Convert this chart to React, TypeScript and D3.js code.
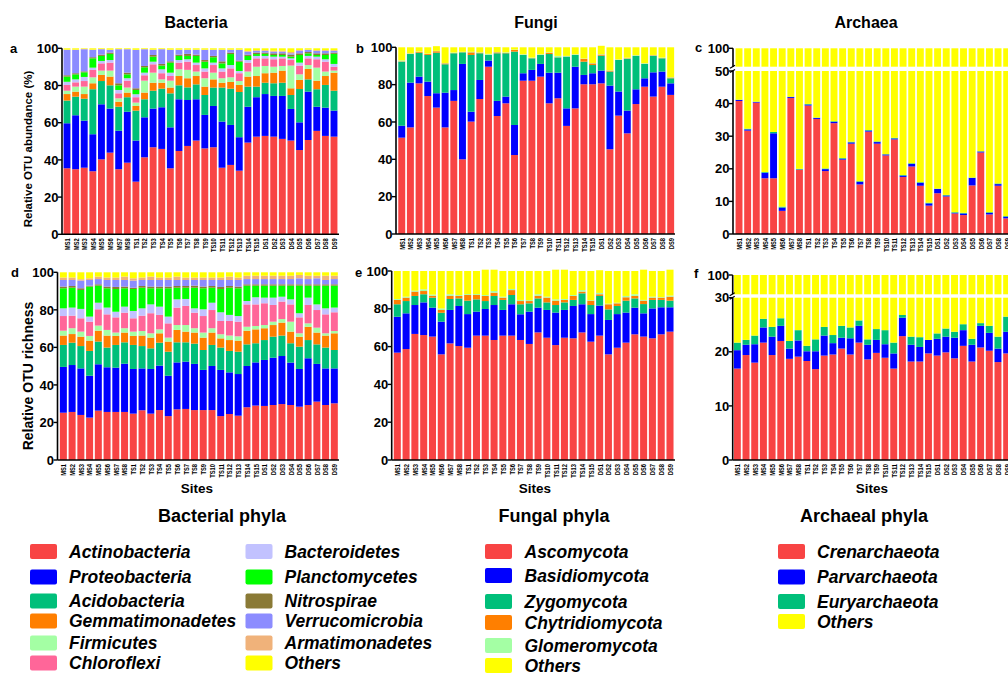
import React from 'react';
import * as d3 from 'd3';

const FONT = '"Liberation Sans", Arial, Helvetica, sans-serif';

const sites = [
  'MS1', 'MS2', 'MS3', 'MS4', 'MS5', 'MS6', 'MS7', 'MS8',
  'TS1', 'TS2', 'TS3', 'TS4', 'TS5', 'TS6', 'TS7', 'TS8', 'TS9', 'TS10', 'TS11', 'TS12', 'TS13', 'TS14', 'TS15',
  'DS1', 'DS2', 'DS3', 'DS4', 'DS5', 'DS6', 'DS7', 'DS8', 'DS9',
];

// a: bacterial OTU abundance (%)
const abActino = [35.5, 35, 35.8, 33.9, 40.3, 43.9, 35, 38.5, 28.3, 41.4, 46.8, 45.9, 35.5, 44.8, 47.5, 50.4, 46.2, 46.8, 35.8, 37.3, 34.2, 49.3, 52.5, 52.9, 52.5, 51.3, 50.4, 45.3, 50.7, 55.6, 52.9, 52.5];
const abProteo = [24.2, 29, 25.3, 19.9, 29.6, 23.7, 20.7, 27.4, 22.1, 21.5, 20.8, 22.4, 22, 27.8, 24.7, 22.2, 18, 22.2, 24.8, 21.5, 18, 19.3, 21.2, 22.5, 21.9, 23.1, 17, 14.9, 26, 13, 15.2, 14];
const abAcido = [12.2, 10, 11.8, 24.2, 12.5, 12.5, 12.9, 7.8, 16.1, 9.7, 9.6, 10, 18.3, 7.5, 6.8, 8, 10.7, 9.9, 18.3, 19.5, 24.3, 10.8, 5.7, 6.1, 6.8, 7.1, 7.5, 17.9, 6.6, 9.4, 12.2, 10.7];
const abGemma = [3.5, 2.7, 2.5, 3.2, 3.3, 4.7, 2.7, 2.5, 2.5, 3.6, 4.3, 3.2, 3.1, 5, 4.9, 4.5, 4.5, 4.4, 2.6, 3.6, 3.8, 5.4, 5.7, 5.1, 5.7, 6.5, 3.6, 4.9, 5.6, 4.6, 4.8, 9.7];
const abFirmi = [1.8, 2.7, 4, 3.2, 2.3, 3.2, 1.8, 2.7, 1.8, 6.4, 5.4, 1.8, 3.7, 3.6, 4.5, 2.4, 4.5, 3.6, 2.4, 2.5, 2.1, 2.7, 5, 3.9, 3.2, 2.5, 12.2, 3, 2.1, 7, 2.4, 1.1];
const abChloro = [3.1, 2.3, 3, 4, 3.9, 4.3, 2.7, 3.7, 2.9, 2.9, 4.5, 3.3, 2.5, 3.6, 4.4, 3.5, 3.6, 4.1, 3.6, 4.8, 4.2, 4.8, 4.5, 4.1, 4, 4.1, 3, 4.7, 3.6, 4.5, 5.3, 2.1];
const abBactero = [1.7, 1.6, 2.2, 1.2, 1.3, 1.4, 1.8, 1.3, 1.6, 1.4, 1.4, 2.1, 1.8, 1.4, 1.3, 1.3, 1.7, 1.3, 1.7, 1.8, 1.2, 1.4, 1.3, 1.3, 1.4, 0.9, 0.9, 1.6, 1.3, 1.4, 1.3, 1.5];
const abPlancto = [2.8, 2.7, 2.5, 5, 2.7, 3.3, 2.5, 2.1, 2.3, 2.9, 2.7, 2, 5.4, 2.2, 1.8, 3.6, 3.6, 2.9, 2.7, 5.9, 5, 2.2, 1, 1.1, 0.9, 0.9, 0.9, 4.1, 1.4, 0.9, 2.3, 5.4];
const abNitro = [0.7, 0.6, 0.5, 0.6, 0.7, 0.7, 1.1, 0.9, 0.9, 0.7, 0.9, 0.9, 0.7, 0.7, 1.1, 0.7, 0.9, 0.7, 1.1, 0.8, 0.6, 0.7, 0.8, 0.7, 0.9, 0.9, 1.1, 0.9, 0.7, 0.9, 0.9, 0.7];
const abVerruco = [13.6, 12.5, 11.9, 3.9, 2.9, 1.4, 18.3, 12.6, 20.6, 9, 2.7, 7.9, 6.1, 2.5, 2.1, 2.5, 5.4, 3.2, 6.1, 1.4, 5.7, 1.6, 0.9, 0.9, 0.9, 0.9, 0.7, 1.4, 1.1, 1.3, 1.3, 0.9];
const abArmat = [0.2, 0.2, 0.2, 0.2, 0.1, 0.2, 0.1, 0.1, 0.1, 0.1, 0.2, 0.1, 0.2, 0.2, 0.2, 0.2, 0.2, 0.2, 0.2, 0.2, 0.2, 0.4, 0.4, 0.4, 0.5, 0.5, 0.7, 0.4, 0.2, 0.4, 0.4, 0.4];
const abOthers = [0.7, 0.7, 0.3, 0.7, 0.4, 0.7, 0.4, 0.4, 0.8, 0.4, 0.7, 0.4, 0.7, 0.7, 0.7, 0.7, 0.7, 0.7, 0.7, 0.7, 0.7, 1.4, 1.0, 1.0, 1.3, 1.3, 2.0, 0.9, 0.7, 1.0, 1.0, 1.0];

// d: bacterial OTU richness (%)
const brActino = [25.2, 25.6, 24, 22.6, 26.3, 25.6, 25.6, 25.6, 24.7, 26.5, 24.7, 26.6, 23.4, 27, 27.2, 26.6, 26.6, 26.6, 23.4, 24.5, 23.6, 28.1, 29, 28.8, 29.3, 29.8, 29.3, 28.4, 29.3, 31.1, 29.3, 30.2];
const brProteo = [24.4, 25, 24.8, 22.3, 24.7, 23.8, 23.6, 25.7, 23.8, 22.3, 23.8, 23.7, 21.5, 25, 25.2, 24.6, 21.4, 23.5, 24.6, 22.2, 22.2, 22, 23, 24.5, 25.2, 25.6, 22.6, 20.1, 24.9, 20.1, 19.5, 18.6];
const brAcido = [11.7, 11.9, 11.9, 13.2, 12.1, 10.5, 12.1, 11.4, 12.8, 11.9, 11, 12.2, 12.8, 10.7, 10.3, 10.8, 10.6, 11.2, 11.9, 11.4, 11.9, 11.5, 10.2, 10.6, 11.2, 10.9, 10.3, 11.9, 9.7, 10.4, 11.1, 9.8];
const brGemma = [5, 4.6, 5, 5.5, 5.8, 6.4, 4.8, 5.2, 4.8, 5.6, 5.7, 5, 5.4, 6.6, 5.7, 5.9, 6.6, 6.6, 4.9, 5.8, 5.9, 7.3, 7.4, 6.3, 6.2, 6.9, 6.2, 5.3, 7.1, 6.3, 6.4, 8.9];
const brFirmi = [2.6, 3.1, 2.7, 2.5, 2.7, 3, 1.8, 2.3, 2.3, 2.4, 2.3, 2.1, 2.1, 2.6, 3.5, 2.3, 2.7, 2.3, 2.2, 2.4, 2.3, 2.1, 1.8, 1.7, 1.8, 1.9, 5.3, 1.8, 1.8, 2.6, 1.2, 1.2];
const brChloro = [7.8, 6.7, 7.1, 7.6, 8.7, 8.3, 8.1, 8.3, 7.1, 8.2, 10.7, 7.7, 7.6, 9.3, 10.2, 8.3, 8.8, 9.7, 7.1, 7.8, 7.8, 11.9, 11.5, 11.6, 8.9, 9.3, 9.2, 8.5, 9.8, 9.4, 10.1, 10];
const brBactero = [4.1, 4.3, 5, 2.7, 3.5, 3.6, 3, 3.2, 3.9, 3.9, 4.7, 4.4, 3.6, 4.4, 3.7, 2.3, 3.6, 3.9, 4.6, 3.2, 3, 1.8, 3.8, 3, 3.9, 2.6, 2.7, 2.2, 3.9, 3, 3.2, 2.5];
const brPlancto = [10.7, 10.6, 10.1, 16, 9.1, 10.3, 12.1, 9.8, 11.7, 11, 8.6, 9.8, 15.1, 6.2, 6, 11, 11.2, 8, 12.4, 14.5, 14.8, 8.2, 6.2, 6.4, 6.4, 5.9, 7.3, 14.7, 6.4, 10, 12.1, 11.7];
const brNitro = [0.9, 0.9, 0.9, 0.5, 0.7, 0.9, 1.1, 0.9, 0.7, 0.9, 0.9, 0.9, 0.9, 0.9, 0.9, 1.1, 0.9, 0.9, 1.1, 0.9, 0.9, 0.7, 0.7, 0.7, 0.7, 0.7, 0.7, 0.7, 0.7, 0.7, 0.7, 0.7];
const brVerruco = [3.5, 3.2, 4.1, 3, 2.8, 3.5, 3.7, 3.5, 3.8, 3.2, 3.5, 3.5, 3.5, 3.2, 3.2, 3, 3.5, 3.2, 3.7, 3.2, 3.5, 2.8, 2.8, 2.8, 2.8, 2.8, 2.8, 3.2, 2.8, 3.2, 2.3, 2.8];
const brArmat = [1.3, 1.3, 0.7, 0.9, 1.3, 1.3, 1.3, 1.8, 1.2, 1.3, 1.8, 1.3, 1.3, 1.8, 1.3, 1.3, 1.3, 1.3, 1.3, 1.8, 1.3, 1.8, 1.8, 1.8, 1.8, 1.8, 1.8, 1.8, 1.8, 1.4, 2.3, 1.8];
const brOthers = [2.8, 2.8, 3.7, 3.2, 2.3, 2.8, 2.8, 2.3, 3.2, 2.8, 2.3, 2.8, 2.8, 2.3, 2.8, 2.8, 2.8, 2.8, 2.8, 2.3, 2.8, 1.8, 1.8, 1.8, 1.8, 1.8, 1.8, 1.4, 1.8, 1.8, 1.8, 1.8];

// b: fungal OTU abundance (%)
const faAsco = [51.6, 57.1, 80.7, 73.9, 67.7, 57.1, 71.3, 40, 60.2, 72.3, 89.6, 63.2, 70, 42.3, 82.1, 82.1, 84.3, 70, 72.7, 57.9, 67.3, 80.2, 80.2, 80.7, 45.4, 63.4, 53.9, 69.6, 78.9, 73.6, 78.9, 74.5];
const faBasidio = [6.4, 24, 3.6, 7.7, 7.7, 18.6, 5.8, 51.1, 5.3, 10.2, 3.3, 8.1, 3.6, 16.1, 4, 5.8, 6.8, 16.4, 13.7, 9.4, 22.3, 5, 5.9, 6.8, 34.1, 12.9, 12.2, 7.9, 4.5, 13, 8.1, 6.2];
const faZygo = [34.3, 15.3, 12.8, 14.3, 21.7, 15.2, 19.7, 6.2, 30.4, 14.3, 3, 25.5, 23.2, 39.3, 9.8, 6.2, 4.8, 10, 8.2, 27.7, 6.3, 7.1, 4.4, 8, 7.5, 16.9, 27.7, 17.9, 7.7, 8.8, 7.1, 2.7];
const faChytri = [0.2, 0.2, 0.4, 0.5, 0.8, 0.5, 0.1, 0.1, 1.4, 0.3, 0.1, 0.5, 0.2, 0.9, 0.1, 0.1, 0.1, 0.7, 0.1, 0.1, 0.1, 1.5, 0.9, 0.6, 0.5, 0.1, 0.3, 0.1, 0.1, 0.3, 0.1, 0.4];
const faGlomero = [0.5, 0.2, 0.2, 0.2, 0.2, 0.2, 0.3, 0.2, 0.3, 0.2, 0.5, 0.2, 0.3, 0.2, 0.3, 0.3, 0.3, 0.2, 0.7, 0.3, 0.3, 0.2, 0.2, 0.2, 0.2, 0.2, 0.3, 0.3, 0.3, 0.2, 0.3, 0.2];
const faOthers = [7.0, 3.2, 2.3, 3.4, 2.5, 8.4, 2.8, 2.4, 2.4, 2.7, 3.5, 2.6, 2.7, 1.2, 3.7, 5.5, 3.7, 2.7, 4.6, 4.6, 3.7, 6, 8.4, 4.5, 12.3, 6.5, 5.6, 4.2, 8.5, 4.1, 5.5, 16];

// e: fungal OTU richness (%)
const frAsco = [56.8, 58.7, 66.7, 66.1, 65.3, 55.9, 61.7, 60.3, 59.4, 65.8, 65.8, 63.5, 65.8, 65.8, 63.5, 61.4, 67.5, 64.7, 60.8, 64.7, 64.4, 67.5, 62.6, 65.8, 55.9, 59.4, 62.1, 66.5, 65.3, 64.4, 66.5, 67.9];
const frBasidio = [19, 18.9, 15.3, 17.3, 15.3, 17.3, 17.7, 21.2, 17.8, 12.7, 14.1, 18.5, 13.6, 16.6, 13.6, 17.1, 13.1, 14.7, 17.2, 14.7, 17.1, 14.9, 14.6, 15.9, 18.2, 17.8, 15.9, 14.1, 12.3, 15.8, 14.3, 12.9];
const frZygo = [6.6, 6.5, 4.8, 4.3, 5.3, 4.7, 5.8, 4, 7.1, 6.5, 4.2, 4.8, 5.3, 4.9, 5.3, 4.4, 4.9, 4, 4, 4, 3.2, 5.8, 4.8, 5.1, 5.6, 4.3, 6.3, 4.9, 4.9, 4.5, 3.9, 3.5];
const frChytri = [2.3, 1.8, 2.3, 1.7, 1, 1.5, 1.7, 1.3, 3, 2.3, 2.7, 1.7, 1.2, 2.6, 1.7, 1.2, 1.4, 2.5, 2.3, 1.3, 2.1, 0.9, 2.3, 0.9, 2.7, 1.4, 1.8, 1.3, 1.8, 1.2, 1.2, 2.1];
const frGlomero = [0.5, 0.5, 0.5, 0.9, 0.6, 0.8, 0.8, 0.5, 0.5, 0.5, 0.5, 0.9, 0.5, 0.6, 0.6, 0.5, 0.8, 0.5, 0.7, 0.5, 0.5, 0.8, 0.3, 0.7, 0.3, 0.3, 0.7, 0.9, 0.4, 0.5, 0.3, 0.6];
const frOthers = [14.8, 13.6, 10.4, 9.7, 12.5, 19.8, 12.3, 12.7, 12.2, 12.2, 13.4, 11.3, 13.6, 9.5, 15.3, 15.4, 12.3, 13.6, 15.7, 15.5, 12.7, 10.1, 15.4, 12, 17.3, 16.8, 13.2, 12.3, 16, 13.6, 13.8, 13.7];

// c: archaeal OTU abundance (%)
const aaCren = [40.8, 31.7, 40.3, 17.1, 17.1, 7.1, 41.7, 19.7, 39.4, 35.3, 19.3, 34, 22.8, 27.7, 15.2, 31.4, 27.7, 24.1, 29, 17.5, 20.7, 14.8, 8.7, 12.5, 11.5, 6.3, 5.8, 14.9, 25, 6, 14.8, 4.8];
const aaParv = [0.3, 0.4, 0.2, 1.7, 13.8, 1.0, 0.3, 0.1, 0.3, 0.3, 0.6, 0.4, 0.3, 0.4, 0.8, 0.3, 0.5, 0.3, 0.3, 0.4, 0.8, 0.9, 0.7, 1.3, 0.3, 0.2, 0.5, 2.3, 0.3, 0.5, 0.5, 0.5];
const aaEury = [0.1, 0.2, 0.1, 0.2, 0.4, 0.3, 0.1, 0.2, 0.2, 0.1, 0.2, 0.2, 0.2, 0.2, 0.2, 0.2, 0.2, 0.1, 0.2, 0.2, 0.2, 0.2, 0.2, 0.1, 0.2, 0.2, 0.2, 0.1, 0.1, 0.2, 0.2, 0.2];
const aaOthers = [58.8, 67.7, 59.4, 81.0, 68.7, 91.6, 57.9, 80.0, 60.1, 64.3, 79.9, 65.4, 76.7, 71.7, 83.8, 68.1, 71.6, 75.5, 70.5, 81.9, 78.3, 84.1, 90.4, 86.1, 88.0, 93.3, 93.5, 82.7, 74.6, 93.3, 84.5, 94.5];

// f: archaeal OTU richness (%)
const arCren = [16.9, 19.4, 18, 21.7, 19.4, 22, 18.7, 19.1, 18.3, 16.8, 19.3, 19.5, 20.6, 19.5, 21.7, 18.6, 19.8, 18.9, 16.9, 22.9, 18.2, 18.2, 19.7, 19.3, 19.9, 18.8, 21.1, 18.2, 20.8, 20.2, 18.1, 19.7];
const arParv = [3.4, 1.9, 3.4, 2.8, 3.4, 2.8, 1.9, 3, 1.8, 3.3, 3.7, 2.1, 2, 3, 3.1, 2.7, 2.4, 2.5, 2.8, 3.4, 3.1, 2.7, 2.5, 3.1, 2.9, 3.8, 2.9, 3.1, 4, 3.3, 2.5, 4];
const arEury = [1.4, 0.9, 1.6, 1.6, 1.8, 1.4, 1.4, 1.9, 1, 2.2, 1.6, 1.5, 2.2, 2, 1, 1, 2, 2.6, 2, 0.5, 1.5, 1.8, 0, 1, 1.5, 1.1, 1.1, 1.1, 0.5, 1.3, 2.2, 2.8];
const arOthers = [78.3, 77.8, 77, 73.9, 75.4, 73.8, 78, 76, 78.9, 77.7, 75.4, 76.9, 75.2, 75.5, 74.2, 77.7, 75.8, 76, 78.3, 73.2, 77.2, 77.3, 77.8, 76.6, 75.7, 76.3, 74.9, 77.6, 74.7, 75.2, 77.2, 73.5];

const bacPhyla = ['Actinobacteria', 'Proteobacteria', 'Acidobacteria', 'Gemmatimonadetes', 'Firmicutes', 'Chloroflexi',
  'Bacteroidetes', 'Planctomycetes', 'Nitrospirae', 'Verrucomicrobia', 'Armatimonadetes', 'Others'];
const bacColors = ['#f84444', '#0000ff', '#00bf7a', '#ff7f00', '#a4ffa4', '#ff6699',
  '#c2c2ff', '#00ff00', '#8a7a36', '#8c8cff', '#f0b27a', '#ffff00'];
const fungPhyla = ['Ascomycota', 'Basidiomycota', 'Zygomycota', 'Chytridiomycota', 'Glomeromycota', 'Others'];
const fungColors = ['#f84444', '#0000ff', '#00bf7a', '#ff7f00', '#a4ffa4', '#ffff00'];
const archPhyla = ['Crenarchaeota', 'Parvarchaeota', 'Euryarchaeota', 'Others'];
const archColors = ['#f84444', '#0000ff', '#00bf7a', '#ffff00'];

type Seg = { lo: number; hi: number; top: number; ticks: number[]; scale: d3.ScaleLinear<number, number> };

function seg(lo: number, hi: number, top: number, yBottom: number, yTop: number, ticks: number[]): Seg {
  return { lo, hi, top, ticks, scale: d3.scaleLinear().domain([lo, top]).range([yBottom, yTop]) };
}

function StackPanel({ keys, colors, series, range, axisX, segs, xEnd, letter, letterPos }: any) {
  const rows = sites.map((s, i) => {
    const r: any = { site: s };
    keys.forEach((k: string, j: number) => { r[k] = series[j][i]; });
    return r;
  });
  const stacked = d3.stack<any>().keys(keys)(rows);
  const x = d3.scaleBand().domain(sites).range(range).paddingInner(0.2).paddingOuter(0.1);
  const bw = x.bandwidth();
  const baseY = segs[0].scale(0);

  return (
    <g>
      {stacked.map((layer, li) => (
        <g key={keys[li]} fill={colors[li]}>
          {layer.map((d, i) =>
            segs.map((s: Seg, si: number) => {
              const a = Math.max(d[0], s.lo);
              const b = Math.min(d[1], s.hi);
              if (b <= a) return null;
              return (
                <rect key={i + '-' + si} x={x(sites[i])} y={s.scale(b)} width={bw}
                  height={s.scale(a) - s.scale(b)} />
              );
            })
          )}
        </g>
      ))}
      {/* y axis, split in pieces when the axis is broken */}
      {segs.map((s: Seg, si: number) => (
        <g key={'ax' + si}>
          <line x1={axisX} x2={axisX} y1={s.scale(s.lo)} y2={s.scale(Math.min(s.hi, s.top))}
            stroke="#000" strokeWidth={1.6} />
          {s.ticks.map((t) => (
            <g key={t}>
              <line x1={axisX - 4} x2={axisX} y1={s.scale(t)} y2={s.scale(t)} stroke="#000" strokeWidth={1.4} />
              <text x={axisX - 3.5} y={s.scale(t)} dy="0.36em" textAnchor="end" fontSize={13}
                fontWeight="bold" fontFamily={FONT}>{t}</text>
            </g>
          ))}
          {segs.length > 1 && si === 0 && (
            <line x1={axisX - 3} x2={axisX + 2} y1={s.scale(s.hi) + 1.5} y2={s.scale(s.hi) - 1.5} stroke="#000" strokeWidth={1.2} />
          )}
          {segs.length > 1 && si === 1 && (
            <line x1={axisX - 3} x2={axisX + 2} y1={s.scale(s.lo) + 1.5} y2={s.scale(s.lo) - 1.5} stroke="#000" strokeWidth={1.2} />
          )}
        </g>
      ))}
      {/* x axis */}
      <line x1={axisX} x2={xEnd} y1={baseY} y2={baseY} stroke="#000" strokeWidth={1.6} />
      {sites.map((s) => (
        <text key={s} transform={`translate(${(x(s) as number) + bw / 2},${baseY + 4}) rotate(-90) scale(0.72,1)`}
          dy="0.36em" textAnchor="end" fontSize={8} fontWeight="bold" fontFamily={FONT}>{s}</text>
      ))}
      <text x={letterPos[0]} y={letterPos[1]} fontSize={13} fontWeight="bold" fontFamily={FONT}>{letter}</text>
    </g>
  );
}

function Legend({ title, titleX, items, colors, cols }: any) {
  return (
    <g fontFamily={FONT}>
      <text x={titleX} y={522} textAnchor="middle" fontSize={18} fontWeight="bold">{title}</text>
      {cols.map((c: any, ci: number) =>
        c.ys.map((y: number, k: number) => {
          const idx = c.start + k;
          return (
            <g key={ci + '-' + k}>
              <rect x={c.swatchX} y={y - 7.5} width={27} height={15} rx={2} fill={colors[idx]} />
              <text x={c.textX} y={y + 6.3} fontSize={17.5} fontWeight="bold" fontStyle="italic">{items[idx]}</text>
            </g>
          );
        })
      )}
    </g>
  );
}

export default function App() {
  const t100 = [0, 20, 40, 60, 80, 100];
  return (
    <svg width={1008} height={675} style={{ position: 'absolute', left: 0, top: 0, background: '#fff' }}>
      <rect width={1008} height={675} fill="#fff" />
      <g fontFamily={FONT} fontWeight="bold" fontSize={16} textAnchor="middle">
        <text x={196} y={28}>Bacteria</text>
        <text x={536} y={28}>Fungi</text>
        <text x={866} y={28}>Archaea</text>
      </g>

      <StackPanel keys={bacPhyla} colors={bacColors}
        series={[abActino, abProteo, abAcido, abGemma, abFirmi, abChloro, abBactero, abPlancto, abNitro, abVerruco, abArmat, abOthers]}
        range={[62.7, 338.3]} axisX={62} xEnd={339}
        segs={[seg(0, Infinity, 100, 234.3, 48.3, t100)]}
        letter="a" letterPos={[10, 53]} />
      <StackPanel keys={fungPhyla} colors={fungColors}
        series={[faAsco, faBasidio, faZygo, faChytri, faGlomero, faOthers]}
        range={[397.4, 675]} axisX={396} xEnd={675}
        segs={[seg(0, Infinity, 100, 234, 47.3, t100)]}
        letter="b" letterPos={[356, 53]} />
      <StackPanel keys={archPhyla} colors={archColors}
        series={[aaCren, aaParv, aaEury, aaOthers]}
        range={[734.7, 1011]} axisX={733} xEnd={1008}
        segs={[seg(0, 50, 50, 234, 71, [0, 10, 20, 30, 40, 50]), seg(50, 100, 100, 66.7, 48.3, [100])]}
        letter="c" letterPos={[695, 52]} />

      <StackPanel keys={bacPhyla} colors={bacColors}
        series={[brActino, brProteo, brAcido, brGemma, brFirmi, brChloro, brBactero, brPlancto, brNitro, brVerruco, brArmat, brOthers]}
        range={[59, 338.7]} axisX={57.5} xEnd={339}
        segs={[seg(0, Infinity, 100, 460, 272.3, t100)]}
        letter="d" letterPos={[11, 277]} />
      <StackPanel keys={fungPhyla} colors={fungColors}
        series={[frAsco, frBasidio, frZygo, frChytri, frGlomero, frOthers]}
        range={[392.9, 674.4]} axisX={391.7} xEnd={675}
        segs={[seg(0, Infinity, 100, 460, 271, t100)]}
        letter="e" letterPos={[355, 277]} />
      <StackPanel keys={archPhyla} colors={archColors}
        series={[arCren, arParv, arEury, arOthers]}
        range={[733, 1011]} axisX={732.7} xEnd={1008}
        segs={[seg(0, 30, 30, 460, 297.7, [0, 10, 20, 30]), seg(30, 100, 100, 294.3, 275, [100])]}
        letter="f" letterPos={[694, 278]} />

      <g fontFamily={FONT} fontWeight="bold">
        <text transform="translate(32,149) rotate(-90)" textAnchor="middle" fontSize={11.5}>Relative OTU abundance (%)</text>
        <text transform="translate(33,376) rotate(-90)" textAnchor="middle" fontSize={14}>Relative OTU richness</text>
        <text x={197} y={493} textAnchor="middle" fontSize={13.5}>Sites</text>
        <text x={535} y={493} textAnchor="middle" fontSize={13.5}>Sites</text>
        <text x={872} y={493} textAnchor="middle" fontSize={13.5}>Sites</text>
      </g>

      <Legend title="Bacterial phyla" titleX={222} items={bacPhyla} colors={bacColors}
        cols={[
          { swatchX: 30, textX: 69, start: 0, ys: [551.5, 577, 601, 621, 643, 663] },
          { swatchX: 245.5, textX: 284.5, start: 6, ys: [551.5, 577, 601, 621, 643, 663] },
        ]} />
      <Legend title="Fungal phyla" titleX={554} items={fungPhyla} colors={fungColors}
        cols={[{ swatchX: 485, textX: 524.5, start: 0, ys: [551.5, 575.5, 601.5, 622.5, 645.5, 665.5] }]} />
      <Legend title="Archaeal phyla" titleX={864} items={archPhyla} colors={archColors}
        cols={[{ swatchX: 778, textX: 817, start: 0, ys: [551.5, 577, 601.5, 621.5] }]} />
    </svg>
  );
}
